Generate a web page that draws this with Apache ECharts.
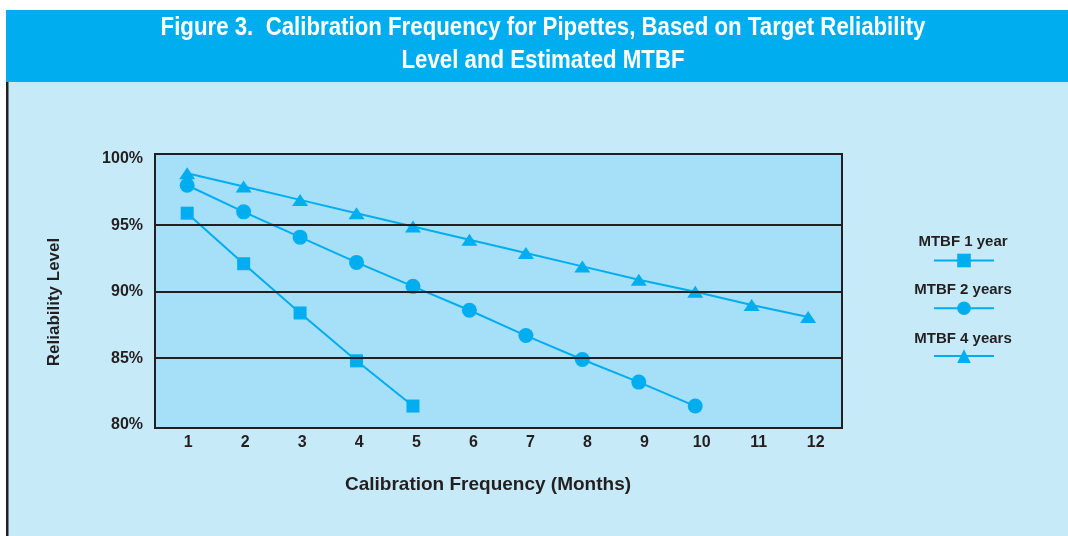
<!DOCTYPE html>
<html>
<head>
<meta charset="utf-8">
<script src="https://cdn.jsdelivr.net/npm/echarts@6/dist/echarts.min.js"></script>
<style>
html, body { margin: 0; padding: 0; background: #fff; }
#chart { width: 1068px; height: 536px; }
</style>
</head>
<body>
<div id="chart"></div>
<script>
// data
const months = [1, 2, 3, 4, 5, 6, 7, 8, 9, 10, 11, 12]
const seriesNames = ['MTBF 1 year', 'MTBF 2 years', 'MTBF 4 years']
const mtbf1Year = [95.9, 92.1, 88.4, 84.8, 81.4]
const mtbf2Years = [98.0, 96.0, 94.1, 92.2, 90.4, 88.6, 86.7, 84.9, 83.2, 81.4]
const mtbf4Years = [98.9, 97.9, 96.9, 95.9, 94.9, 93.9, 92.9, 91.9, 90.9, 90.0, 89.0, 88.1]
const yTicks = [80, 85, 90, 95, 100]
const refLevels = [85, 90, 95]
const titleLines = ['Figure 3.  Calibration Frequency for Pipettes, Based on Target Reliability', 'Level and Estimated MTBF']

const chart = echarts.init(document.getElementById('chart'))

const dark = '#231f20'
const blue = '#00aeef'
const bodyFont = "'Liberation Sans', Arial, sans-serif"

function pairs (vals) {
  return vals.map(function (v, i) { return [months[i], v] })
}

function lineSeries (name, vals, symbol, size) {
  return {
    name: name,
    type: 'line',
    xAxisIndex: 0,
    data: pairs(vals),
    symbol: symbol,
    symbolSize: size,
    z: 3,
    lineStyle: { color: blue, width: 2 },
    itemStyle: { color: blue },
    emphasis: { disabled: true }
  }
}

function legendText (name, y) {
  return {
    type: 'text', x: 963, y: y, z: 10,
    style: { text: name, align: 'center', verticalAlign: 'middle', font: 'bold 15px ' + bodyFont, fill: dark }
  }
}

const option = {
  backgroundColor: '#fff',
  animation: false,
  textStyle: { fontFamily: bodyFont },
  graphic: [
    { type: 'rect', left: 6, top: 82, shape: { width: 1062, height: 454 }, style: { fill: '#c7eaf9' }, z: -10 },
    { type: 'rect', left: 6, top: 82, shape: { width: 2.5, height: 454 }, style: { fill: dark }, z: -9 },
    { type: 'rect', left: 6, top: 10, shape: { width: 1062, height: 72 }, style: { fill: blue }, z: -10 },
    {
      // condensed heading: squeeze the bold sans horizontally
      type: 'text', x: 543, y: 45, z: 10, scaleX: 0.89,
      style: {
        text: titleLines.join('\n'),
        align: 'center', verticalAlign: 'middle',
        font: 'bold 25px ' + bodyFont, lineHeight: 33, fill: '#fff'
      }
    },
    legendText(seriesNames[0], 242),
    legendText(seriesNames[1], 290),
    legendText(seriesNames[2], 339)
  ],
  legend: {
    data: seriesNames,
    orient: 'vertical',
    left: 928,
    top: 247,
    itemWidth: 60,
    itemHeight: 17,
    itemGap: 32.5,
    formatter: function () { return '' },
    selectedMode: false
  },
  grid: {
    left: 155, top: 154, width: 687, height: 274,
    show: true,
    backgroundColor: '#a6dff8',
    borderColor: dark,
    borderWidth: 2
  },
  xAxis: [
    {
      type: 'value', min: 0.43, max: 12.6,
      axisLine: { show: false }, axisTick: { show: false },
      axisLabel: { show: false }, splitLine: { show: false }
    },
    {
      type: 'value', position: 'bottom', min: 0.42, max: 12.46,
      axisLine: { show: false }, axisTick: { show: false }, splitLine: { show: false },
      axisLabel: {
        customValues: months,
        margin: 7,
        fontSize: 16, fontWeight: 'bold', color: dark
      },
      name: 'Calibration Frequency (Months)',
      nameLocation: 'middle',
      nameGap: 47,
      nameTextStyle: { fontSize: 19, fontWeight: 'bold', color: dark, padding: [0, 21, 0, 0] }
    }
  ],
  yAxis: {
    type: 'value', min: 79.75, max: 100.35,
    axisLine: { show: false }, axisTick: { show: false }, splitLine: { show: false },
    axisLabel: {
      customValues: yTicks,
      formatter: '{value}%',
      margin: 12,
      fontSize: 16, fontWeight: 'bold', color: dark
    },
    name: 'Reliability Level',
    nameLocation: 'middle',
    nameGap: 92,
    nameTextStyle: { fontSize: 17, fontWeight: 'bold', color: dark, padding: [0, 22, 0, 0] }
  },
  series: [
    {
      type: 'line',
      data: [],
      z: 1,
      silent: true,
      markLine: {
        silent: true,
        symbol: ['none', 'none'],
        label: { show: false },
        lineStyle: { color: dark, width: 2, type: 'solid' },
        data: refLevels.map(function (v) { return { yAxis: v } })
      }
    },
    lineSeries(seriesNames[0], mtbf1Year, 'rect', 13),
    lineSeries(seriesNames[1], mtbf2Years, 'circle', 15),
    lineSeries(seriesNames[2], mtbf4Years, 'triangle', [16, 12])
  ]
}

chart.setOption(option)
</script>
</body>
</html>
